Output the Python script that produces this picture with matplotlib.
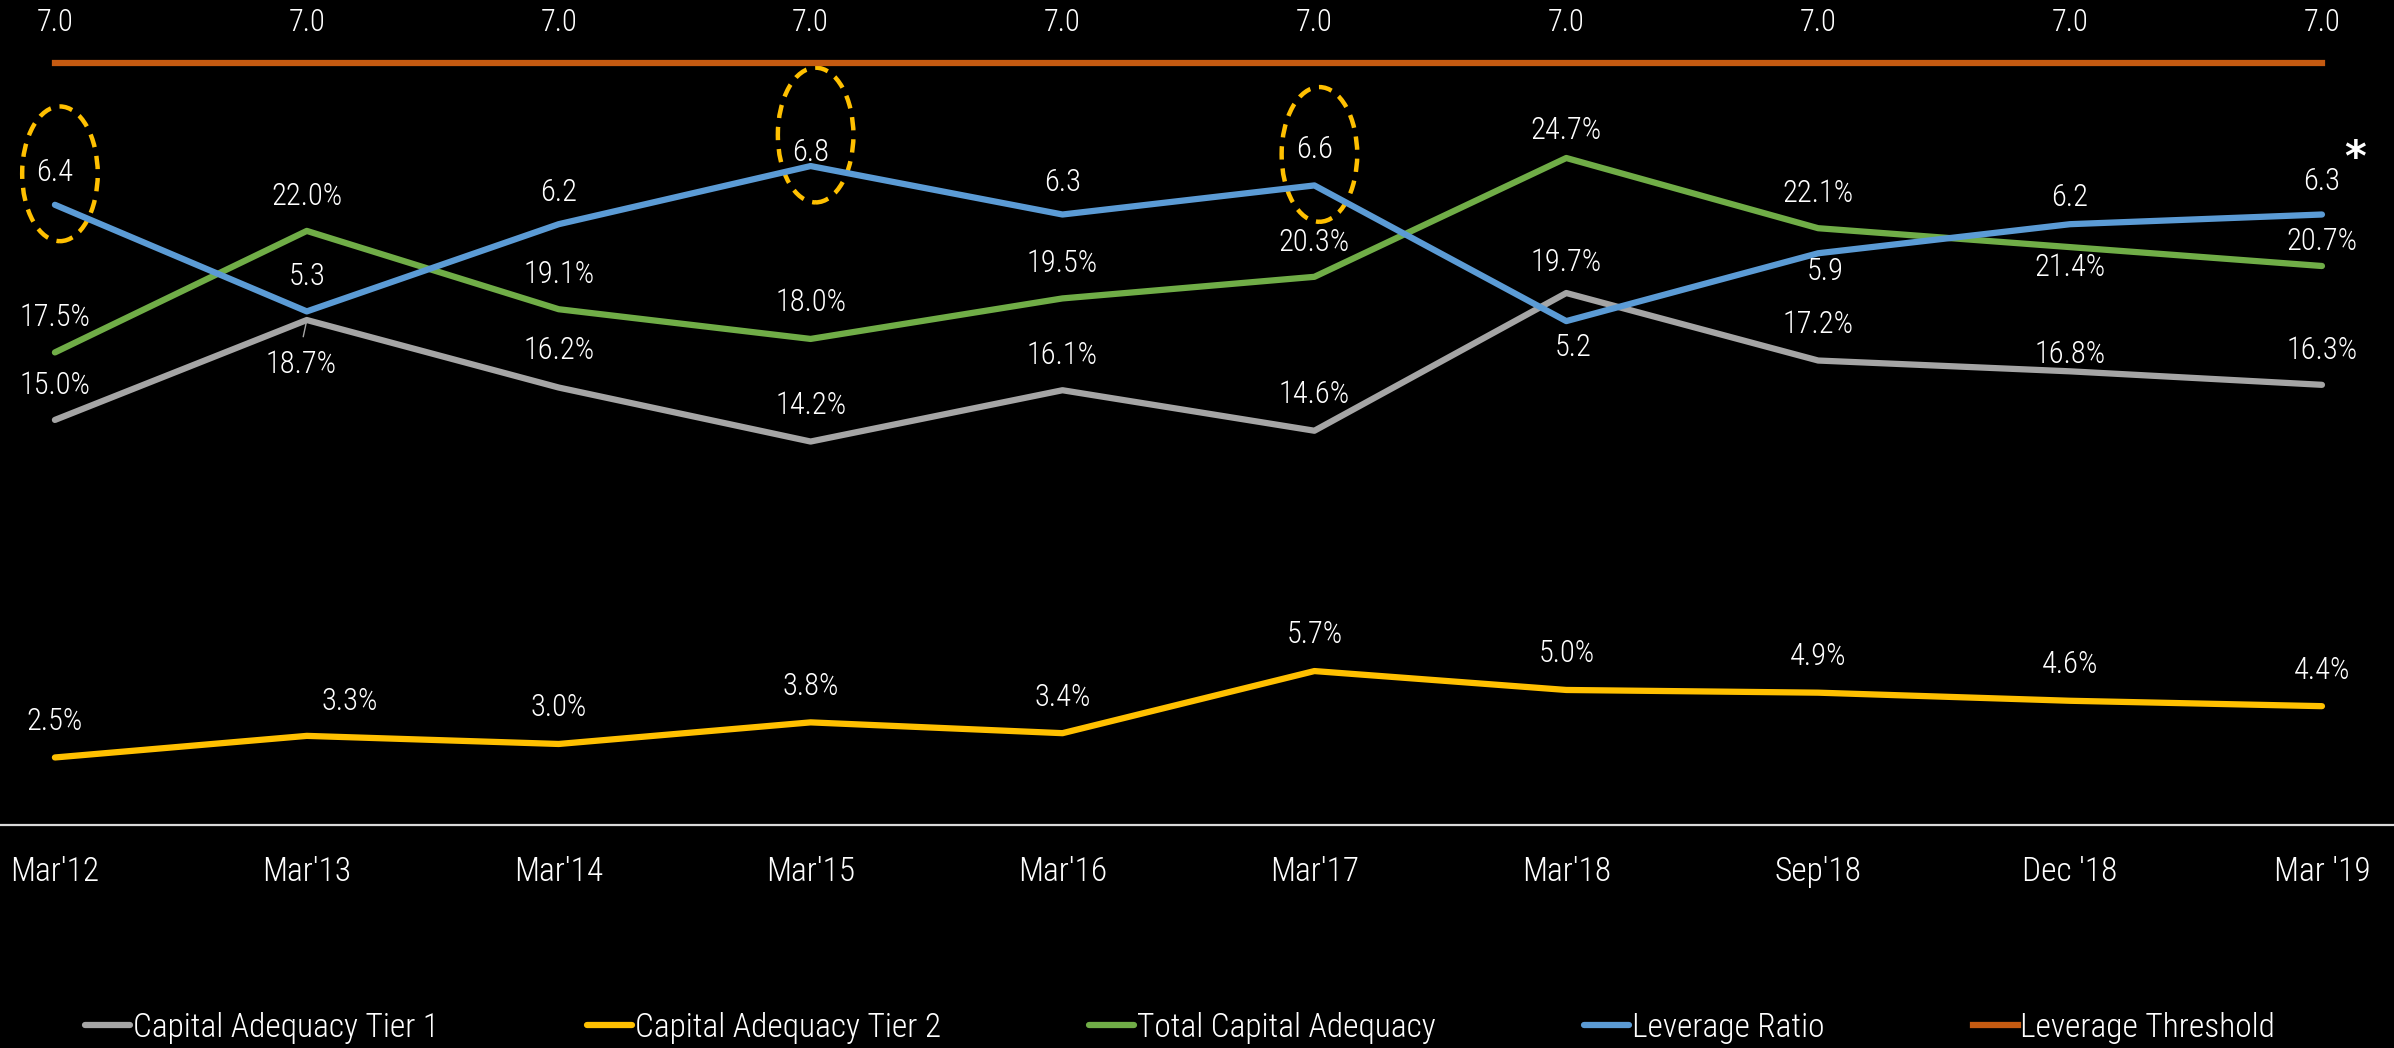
import matplotlib
matplotlib.use("Agg")
import matplotlib.pyplot as plt
from matplotlib import font_manager
from matplotlib.patches import Ellipse

# pick a narrow font if one is installed
names = {f.name for f in font_manager.fontManager.ttflist}
FONT = "Lato"
for cand in ["Roboto Condensed", "Liberation Sans Narrow", "Open Sans Condensed", "Lato"]:
    if cand in names:
        FONT = cand
        break
plt.rcParams["font.family"] = [FONT, "DejaVu Sans"]
plt.rcParams["font.weight"] = "light"

periods = ["Mar'12", "Mar'13", "Mar'14", "Mar'15", "Mar'16", "Mar'17",
           "Mar'18", "Sep'18", "Dec '18", "Mar '19"]
tier1 = [15.0, 18.7, 16.2, 14.2, 16.1, 14.6, 19.7, 17.2, 16.8, 16.3]
tier2 = [2.5, 3.3, 3.0, 3.8, 3.4, 5.7, 5.0, 4.9, 4.6, 4.4]
total = [17.5, 22.0, 19.1, 18.0, 19.5, 20.3, 24.7, 22.1, 21.4, 20.7]
leverage = [6.4, 5.3, 6.2, 6.8, 6.3, 6.6, 5.2, 5.9, 6.2, 6.3]
threshold = [7.0] * 10
circled = [0, 3, 5]  # periods whose leverage value is ringed

GREY, YELLOW, GREEN, BLUE, ORANGE = "#A5A5A5", "#FFC000", "#70AD47", "#5B9BD5", "#C55A11"

# label offsets in points (dx, dy)
off_t1 = [(0, 25), (-4, -32), (0, 27), (0, 26), (0, 25), (0, 26), (0, 22), (0, 26), (0, 12), (0, 25)]
off_t2 = [(0, 26), (31, 25), (0, 26), (0, 26), (0, 26), (0, 26), (0, 26), (0, 26), (0, 26), (0, 26)]
off_tot = [(0, 25), (0, 25), (0, 25), (0, 26), (0, 25), (0, 25), (0, 20), (0, 25), (0, -15), (0, 18)]
off_lev = [(0, 23), (0, 25), (0, 23), (0, 10), (0, 23), (0, 26), (5, -19), (5, -13), (0, 19), (0, 24)]

fig = plt.figure(figsize=(23.94, 10.48), dpi=100, facecolor="black")
ax = fig.add_axes([0, 0.2128, 1, 0.773])
ax.set_facecolor("black")
ax2 = ax.twinx()
ax3 = ax.twinx()
for a in (ax2, ax3):
    a.patch.set_visible(False)

x = list(range(len(periods)))
lw = 4.5
l1, = ax.plot(x, tier1, color=GREY, lw=lw, solid_capstyle="round", label="Capital Adequacy Tier 1")
l2, = ax.plot(x, tier2, color=YELLOW, lw=lw, solid_capstyle="round", label="Capital Adequacy Tier 2")
l3, = ax.plot(x, total, color=GREEN, lw=lw, solid_capstyle="round", label="Total Capital Adequacy")
l4, = ax2.plot(x, leverage, color=BLUE, lw=lw, solid_capstyle="round", label="Leverage Ratio")
l5, = ax3.plot(x, threshold, color=ORANGE, lw=lw, label="Leverage Threshold")

ax.set_xlim(-0.218, 9.286)
ax.set_ylim(0, 30)
ax2.set_ylim(0, 8.36)
ax3.set_ylim(0, 7.44)

fs = 22
def label(a, vals, offs, fmt):
    for i, v in enumerate(vals):
        a.annotate(fmt.format(v), (i, v), xytext=offs[i], textcoords="offset points",
                   ha="center", va="center", color="white", fontsize=fs)

label(ax, tier1, off_t1, "{:.1f}%")
label(ax, tier2, off_t2, "{:.1f}%")
label(ax, total, off_tot, "{:.1f}%")
label(ax2, leverage, off_lev, "{:.1f}")
label(ax3, threshold, [(0, 29)] * 10, "{:.1f}")
ax2.annotate("*", (9, leverage[9]), xytext=(24, 40), textcoords="offset points",
             ha="center", va="center", color="white", fontsize=30, fontweight="bold",
             family="DejaVu Sans")
# small leader from the 18.7% label
ax.annotate("", (1, tier1[1]), xytext=(-3, -14), textcoords="offset points",
            arrowprops=dict(arrowstyle="-", color=GREY, lw=1))

# dashed rings round selected leverage labels
for i in circled:
    ax2.add_patch(Ellipse((i + 0.02, leverage[i] + 0.32), 0.30, 1.39, fill=False,
                          edgecolor=YELLOW, lw=3.2, linestyle=(0, (3, 2))))

for a in (ax, ax2, ax3):
    for s in ("top", "left", "right"):
        a.spines[s].set_visible(False)
    a.set_yticks([])
ax2.spines["bottom"].set_visible(False)
ax3.spines["bottom"].set_visible(False)
ax.spines["bottom"].set_color("#D9D9D9")
ax.spines["bottom"].set_linewidth(1.6)
ax.set_xticks(x)
ax.set_xticklabels(periods, color="white", fontsize=24)
ax.tick_params(axis="x", length=0, pad=22)

fig.legend(handles=[l1, l2, l3, l4, l5], loc="center left", bbox_to_anchor=(0.030, 0.019),
           ncol=5, frameon=False, fontsize=24, labelcolor="white", handlelength=1.35,
           handletextpad=0.08, columnspacing=4.45, borderaxespad=0)

fig.savefig("out.png", facecolor="black")
